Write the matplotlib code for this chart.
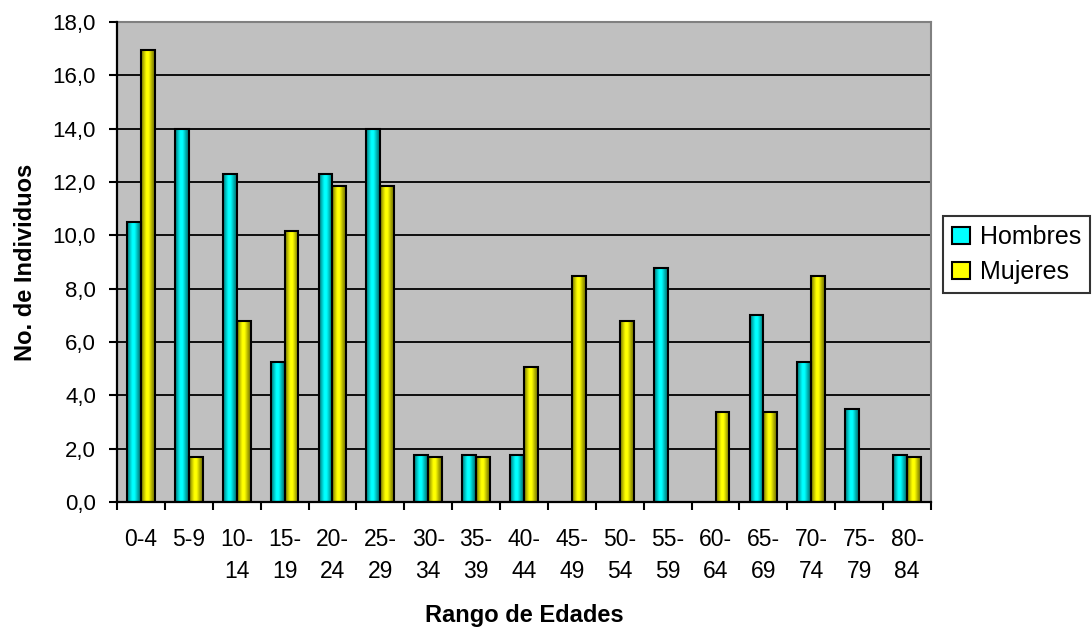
import numpy as np
import matplotlib.pyplot as plt
from matplotlib.colors import LinearSegmentedColormap
from matplotlib.patches import Patch
from matplotlib.ticker import FuncFormatter, MultipleLocator

plt.rcParams['font.family'] = ['Liberation Sans', 'DejaVu Sans']

rangos = ['0-4', '5-9', '10-\n14', '15-\n19', '20-\n24', '25-\n29', '30-\n34',
          '35-\n39', '40-\n44', '45-\n49', '50-\n54', '55-\n59', '60-\n64',
          '65-\n69', '70-\n74', '75-\n79', '80-\n84']
hombres = [10.5, 14.0, 12.3, 5.26, 12.3, 14.0, 1.75, 1.75, 1.75, 0, 0,
           8.77, 0, 7.0, 5.26, 3.5, 1.75]
mujeres = [16.95, 1.69, 6.78, 10.17, 11.86, 11.86, 1.69, 1.69, 5.08, 8.47,
           6.78, 0, 3.39, 3.39, 8.47, 0, 1.69]

# gradientes tipo Excel
cmap_h = LinearSegmentedColormap.from_list('h', [
    (0.0, '#007070'), (0.2, '#00C0C0'), (0.38, '#00FFFF'), (0.55, '#00FFFF'),
    (0.8, '#00A8A8'), (1.0, '#007070')])
cmap_m = LinearSegmentedColormap.from_list('m', [
    (0.0, '#707000'), (0.2, '#C0C000'), (0.38, '#FFFF00'), (0.55, '#FFFF00'),
    (0.8, '#A8A800'), (1.0, '#707000')])

fig = plt.figure(figsize=(10.92, 6.27), dpi=100)
ax = fig.add_axes([0.1071, 0.1994, 0.7455, 0.7655])
ax.set_facecolor('#C0C0C0')

x = np.arange(len(rangos))
w = 0.29
grad = np.linspace(0, 1, 64).reshape(1, -1)

for vals, off, cmap, base in [(hombres, -w / 2, cmap_h, '#00FFFF'),
                              (mujeres, w / 2, cmap_m, '#FFFF00')]:
    bars = ax.bar(x + off, vals, width=w, color=base, edgecolor='black',
                  linewidth=1.5, zorder=3)
    for b in bars:
        h = b.get_height()
        if h <= 0:
            b.set_visible(False)
            continue
        x0 = b.get_x()
        ax.imshow(grad, extent=[x0, x0 + b.get_width(), 0, h], aspect='auto',
                  cmap=cmap, interpolation='bilinear', zorder=3.5)
        b.set_facecolor('none')
        b.set_zorder(4)

ax.set_xlim(-0.5, len(rangos) - 0.5)
ax.set_ylim(0, 18)
ax.yaxis.set_major_locator(MultipleLocator(2))
ax.yaxis.set_major_formatter(FuncFormatter(lambda v, p: f'{v:.1f}'.replace('.', ',')))
ax.grid(axis='y', color='black', linewidth=1.3, zorder=1)

ax.set_xticks(x)
ax.set_xticklabels(rangos, fontsize=16.5, linespacing=1.5)
ax.set_xticks(np.arange(len(rangos) + 1) - 0.5, minor=True)
ax.tick_params(axis='x', which='major', length=0, pad=19)
ax.tick_params(axis='x', which='minor', length=6, width=1.5, direction='out')
ax.tick_params(axis='y', length=6, width=1.5, pad=9, labelsize=16)

for s in ['left', 'bottom']:
    ax.spines[s].set_linewidth(1.6)
    ax.spines[s].set_zorder(5)
for s in ['top', 'right']:
    ax.spines[s].set_color('#808080')
    ax.spines[s].set_linewidth(1.5)

ax.set_xlabel('Rango de Edades', fontsize=17, fontweight='bold', labelpad=15)
ax.set_ylabel('No. de Individuos', fontsize=17, fontweight='bold', labelpad=11)

handles = [Patch(facecolor='#00FFFF', edgecolor='black', linewidth=1.5),
           Patch(facecolor='#FFFF00', edgecolor='black', linewidth=1.5)]
leg = fig.legend(handles, ['Hombres', 'Mujeres'], loc='upper left',
                 bbox_to_anchor=(0.864, 0.655), fontsize=18, frameon=True,
                 fancybox=False, edgecolor='black', handlelength=0.7,
                 handleheight=0.7, handletextpad=0.4, borderpad=0.35,
                 labelspacing=0.45, borderaxespad=0)
leg.get_frame().set_linewidth(1.5)

fig.savefig('out.png', dpi=100)
